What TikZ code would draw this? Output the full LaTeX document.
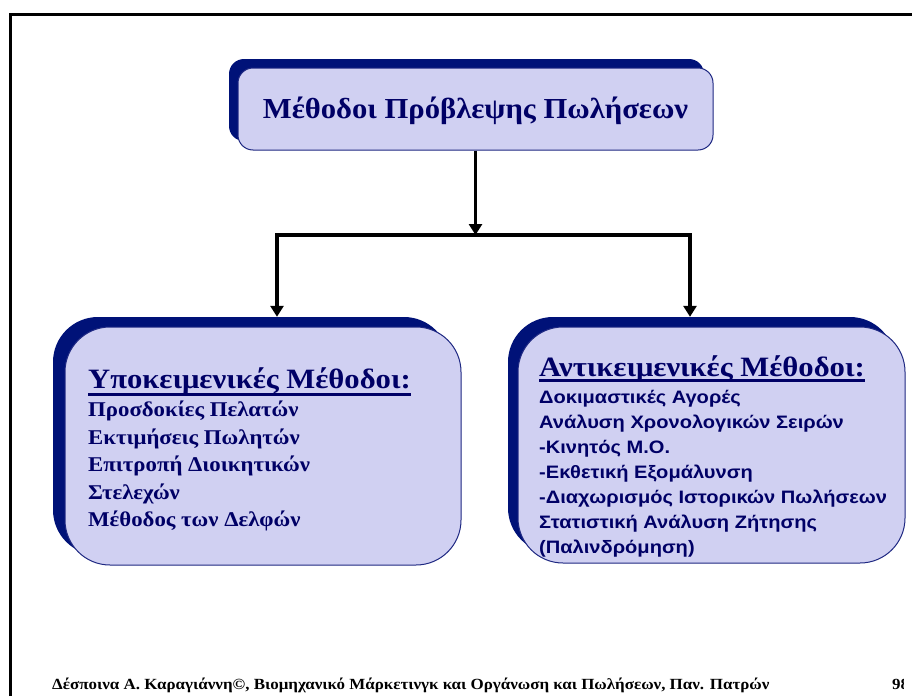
\documentclass[tikz,border=0pt]{standalone}
\usepackage{fontspec}
\setmainfont{Liberation Serif}
\setsansfont{Liberation Sans}
\usetikzlibrary{arrows.meta}
\definecolor{boxfill}{RGB}{208,208,242}
\definecolor{shadowc}{RGB}{0,18,120}
\definecolor{boxline}{RGB}{30,40,130}
\definecolor{navytext}{RGB}{0,0,102}
\tikzset{
  shadowbox/.style={fill=shadowc, draw=none, inner sep=0pt},
  mainbox/.style={fill=boxfill, draw=boxline, line width=1pt, inner sep=0pt},
  conn/.style={line width=3.5pt, black},
  arr/.style={conn, -{Triangle[width=13pt,length=11pt]}},
  titletext/.style={anchor=base, inner sep=0pt, text=navytext, font=\bfseries\addfontfeatures{FakeStretch=1.057}\fontsize{29}{29}\selectfont},
  headtext/.style={anchor=base west, inner sep=0pt, text=navytext, font=\bfseries\addfontfeatures{FakeStretch=1.095}\fontsize{28}{28}\selectfont},
  itemserif/.style={anchor=base west, inner sep=0pt, text=navytext, font=\bfseries\addfontfeatures{FakeStretch=1.085}\fontsize{21}{21}\selectfont},
  itemsans/.style={anchor=base west, inner sep=0pt, text=navytext, font=\sffamily\bfseries\addfontfeatures{FakeStretch=1.115}\fontsize{18}{18}\selectfont},
  foottext/.style={anchor=base west, inner sep=0pt, text=black, font=\bfseries\addfontfeatures{FakeStretch=1.094}\fontsize{15.5}{15.5}\selectfont}
}
\begin{document}
\begin{tikzpicture}[x=1pt,y=-1pt]
\useasboundingbox (0,0) rectangle (912,696);
\fill[white] (0,0) rectangle (912,696);
% frame
\draw[line width=3pt] (10,696) -- (10,14) -- (912,14);

% top box
\node[shadowbox, rounded corners=15pt, minimum width=475pt, minimum height=82pt] (tsh) at (466.5,100) {};
\node[mainbox, rounded corners=15pt, minimum width=475pt, minimum height=82pt] (top) at (475.5,109) {};
\node[titletext] (toptitle) at (475.5,118) {Μέθοδοι Πρόβλεψης Πωλήσεων};

% left box
\node[shadowbox, rounded corners=45pt, minimum width=396pt, minimum height=238pt] (lsh) at (251,436) {};
\node[mainbox, rounded corners=45pt, minimum width=396pt, minimum height=238pt] (left) at (263,446) {};
\node[headtext] (lt) at (88,388) {Υποκειμενικές Μέθοδοι:};
\draw[navytext, line width=3pt] ([yshift=-6.5pt]lt.base west) -- ([yshift=-6.5pt]lt.base east);
\node[itemserif] (l1) at (88,416.7) {Προσδοκίες Πελατών};
\node[itemserif] (l2) at (88,444.2) {Εκτιμήσεις Πωλητών};
\node[itemserif] (l3) at (88,471.7) {Επιτροπή Διοικητικών};
\node[itemserif] (l4) at (88,499.2) {Στελεχών};
\node[itemserif] (l5) at (88,526.7) {Μέθοδος των Δελφών};

% right box
\node[shadowbox, rounded corners=45pt, minimum width=387pt, minimum height=236pt] (rsh) at (701.5,435) {};
\node[mainbox, rounded corners=45pt, minimum width=387pt, minimum height=236pt] (right) at (711.5,445) {};
\node[headtext] (rt) at (539,376.7) {Αντικειμενικές Μέθοδοι:};
\draw[navytext, line width=3pt] ([yshift=-4pt]rt.base west) -- ([yshift=-4pt]rt.base east);
\node[itemsans] (r1) at (539,403) {Δοκιμαστικές Αγορές};
\node[itemsans] (r2) at (539,428) {Ανάλυση Χρονολογικών Σειρών};
\node[itemsans] (r3) at (539,453) {-Κινητός Μ.Ο.};
\node[itemsans] (r4) at (539,478) {-Εκθετική Εξομάλυνση};
\node[itemsans] (r5) at (539,503) {-Διαχωρισμός Ιστορικών Πωλήσεων};
\node[itemsans] (r6) at (539,528) {Στατιστική Ανάλυση Ζήτησης};
\node[itemsans] (r7) at (539,553) {(Παλινδρόμηση)};

% connectors
\coordinate (j) at (475.5,235);
\coordinate (jl) at (277,235);
\coordinate (jr) at (690,235);
\draw[arr] (top.south) -- (j);
\draw[conn, line cap=rect] (jl) -- (jr);
\draw[arr] (jl) -- (jl |- lsh.north);
\draw[arr] (jr) -- (jr |- rsh.north);

% footer
\node[foottext] (foot) at (52,689) {Δέσποινα Α. Καραγιάννη©, Βιομηχανικό Μάρκετινγκ και Οργάνωση και Πωλήσεων, Παν. Πατρών};
\begin{scope}
\clip (880,660) rectangle (903,696);
\node[foottext] (page) at (892,689) {98};
\end{scope}
\end{tikzpicture}
\end{document}
